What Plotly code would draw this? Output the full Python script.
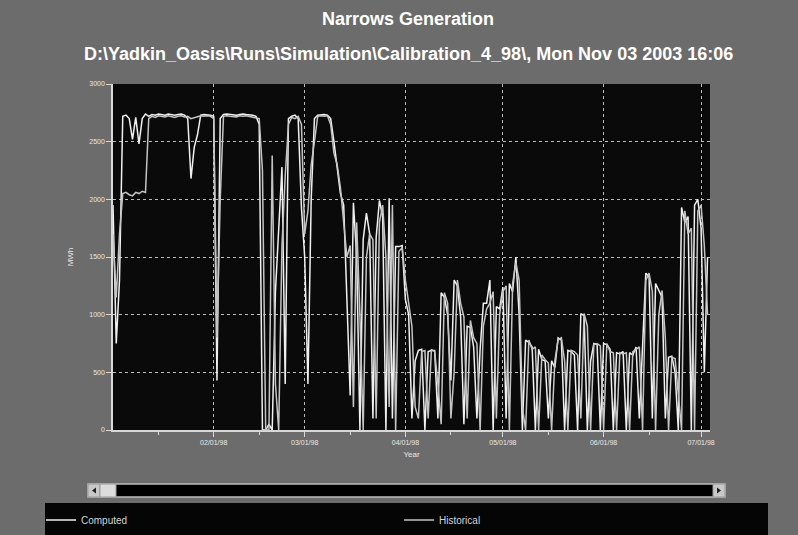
import pandas as pd
import plotly.graph_objects as go

# Daily generation, MWh, starting 1 Jan 1998
start_date = "1998-01-01"

computed = [
    1950, 750, 1300, 2720, 2730, 2700, 2520, 2710, 2480, 2700,
    2740, 2720, 2735, 2730, 2740, 2735, 2730, 2740, 2735, 2730,
    2735, 2740, 2730, 2700, 2180, 2450, 2560, 2730, 2735, 2735,
    2730, 2720, 430, 2700, 2735, 2740, 2735, 2735, 2730, 2735,
    2740, 2735, 2735, 2730, 2720, 2650, 0, 0, 50, 0,
    1200, 1800, 2280, 400, 2700, 2720, 2730, 2700, 1930, 1500,
    400, 2000, 2700, 2730, 2735, 2735, 2730, 2700, 2500, 2250,
    2050, 1950, 1200, 300,
    1970, 1500, 0, 1650, 1880, 1700, 100, 1670, 1990, 1850,
    0, 2010, 100, 1590, 1590, 1600, 1130, 1000, 100, 600,
    690, 700, 0, 680, 690, 690, 100, 1190, 1150, 1000,
    430, 1300, 1250, 980, 50, 900, 890, 720, 100, 700,
    1100, 1100, 1300, 0, 1070, 1050, 1240, 100, 1270, 1200,
    1500, 1000, 0, 780, 760, 720, 0, 700, 610, 600,
    100, 600, 540, 800, 780, 0, 690, 680, 650, 0,
    1010, 990, 0, 600, 750, 740, 0, 750, 740, 700,
    0, 670, 660, 680, 0, 670, 650, 720, 100, 700,
    1360, 1330, 100, 1270, 1210, 1150, 100, 630, 640, 500,
    0, 1930, 1800, 1850, 0, 1950, 2000, 1750, 500, 1500,
]

historical = [
    1700, 1150, 1700, 2050, 2060, 2040, 2030, 2060, 2050, 2070,
    2060, 2700, 2720, 2710, 2725, 2720, 2715, 2725, 2720, 2710,
    2720, 2725, 2715, 2720, 2700, 2710, 2720, 2725, 2720, 2725,
    2720, 2700, 800, 2000, 2720, 2725, 2720, 2720, 2715, 2725,
    2720, 2725, 2720, 2715, 2710, 2700, 2250, 0, 0, 2380,
    400, 0, 1600, 2200, 2650, 2710, 2700, 2720, 2650, 1700,
    1900, 2300, 2500, 2720, 2725, 2720, 2725, 2650, 2400, 2300,
    2100, 1800, 1500, 1600,
    200, 1800, 1000, 0, 1500, 1700, 1650, 100, 1800, 1950,
    1500, 200, 1950, 0, 1550, 1580, 1300, 1100, 900, 200,
    100, 680, 690, 100, 700, 680, 400, 50, 1190, 1100,
    100, 500, 1300, 1100, 980, 100, 950, 800, 750, 0,
    900, 1050, 1100, 1200, 100, 1000, 1200, 1250, 0, 1270,
    1450, 1300, 200, 0, 780, 700, 720, 0, 650, 610,
    580, 0, 600, 780, 800, 600, 0, 690, 680, 650,
    100, 1010, 900, 0, 740, 750, 730, 0, 750, 680,
    670, 0, 670, 660, 670, 0, 680, 700, 720, 0,
    1300, 1360, 1200, 0, 1000, 1210, 800, 0, 630, 620,
    300, 0, 1900, 1700, 1750, 0, 1900, 1950, 1600, 1000,
]

month_ticks = ["1998-02-01", "1998-03-01", "1998-04-01",
               "1998-05-01", "1998-06-01", "1998-07-01"]
month_labels = ["02/01/98", "03/01/98", "04/01/98",
                "05/01/98", "06/01/98", "07/01/98"]
mid_month_ticks = ["1998-01-15", "1998-02-15", "1998-03-15",
                   "1998-04-15", "1998-05-15", "1998-06-15"]
y_ticks = [0, 500, 1000, 1500, 2000, 2500, 3000]

dates = pd.date_range(start_date, periods=len(computed), freq="D")

W, H = 798, 535
L, R, T, B = 113, 88, 84, 105
PW, PH = W - L - R, H - T - B


def px(x):
    return (x - L) / PW


def py(y):
    return (H - B - y) / PH


BG = "#6c6c6c"
FONT = "Liberation Sans, Arial, sans-serif"
LEG_FONT = dict(family=FONT, size=10, color="#d4d4d4")

fig = go.Figure()
fig.add_trace(go.Scatter(x=dates, y=computed, name="Computed", mode="lines",
                         line=dict(color="#f0f0f0", width=1.5), legend="legend"))
fig.add_trace(go.Scatter(x=dates, y=historical, name="Historical", mode="lines",
                         line=dict(color="#c4c4c4", width=1.5), legend="legend2"))

shapes = []
# scroll bar under the plot
shapes.append(dict(type="rect", xref="paper", yref="paper",
                   x0=px(88), x1=px(725), y0=py(497), y1=py(484),
                   fillcolor="#000000", line=dict(color="#bdbdbd", width=1.5)))
for x0, x1, col in [(88, 100, "#c8c8c8"), (100, 116, "#dcdcdc"), (713, 725, "#c8c8c8")]:
    shapes.append(dict(type="rect", xref="paper", yref="paper",
                       x0=px(x0), x1=px(x1), y0=py(497), y1=py(484),
                       fillcolor=col, line=dict(color="#9a9a9a", width=1)))
shapes.append(dict(type="path", xref="paper", yref="paper",
                   path=f"M {px(92)} {py(490.5)} L {px(96)} {py(487.5)} L {px(96)} {py(493.5)} Z",
                   fillcolor="#202020", line=dict(width=0)))
shapes.append(dict(type="path", xref="paper", yref="paper",
                   path=f"M {px(721)} {py(490.5)} L {px(717)} {py(487.5)} L {px(717)} {py(493.5)} Z",
                   fillcolor="#202020", line=dict(width=0)))
# black legend band
shapes.append(dict(type="rect", xref="paper", yref="paper",
                   x0=px(45), x1=px(768), y0=py(540), y1=py(503),
                   fillcolor="#050505", line=dict(width=0), layer="below"))

annotations = [
    dict(text="<b>Narrows Generation</b>", xref="paper", yref="paper",
         x=px(408), y=py(19), xanchor="center", yanchor="middle", showarrow=False,
         font=dict(family=FONT, size=18, color="#ffffff")),
    dict(text="<b>D:\\Yadkin_Oasis\\Runs\\Simulation\\Calibration_4_98\\, Mon Nov 03 2003 16:06</b>",
         xref="paper", yref="paper", x=px(408), y=py(54), xanchor="center", yanchor="middle",
         showarrow=False, font=dict(family=FONT, size=18, color="#ffffff")),
]

axis_common = dict(
    showline=True, linecolor="#d8d8d8", linewidth=1.5,
    ticks="outside", ticklen=5, tickcolor="#d8d8d8",
    tickfont=dict(family=FONT, size=7, color="#e8e8e8"),
    showgrid=True, gridcolor="#bcbcbc", gridwidth=1, griddash="dot",
    zeroline=False, mirror=False,
)

fig.update_layout(
    width=W, height=H,
    margin=dict(l=L, r=R, t=T, b=B, pad=0, autoexpand=False),
    paper_bgcolor=BG, plot_bgcolor="#0a0a0a",
    font=dict(family=FONT, color="#e8e8e8"),
    shapes=shapes, annotations=annotations,
    showlegend=True,
    legend=dict(x=px(41), y=py(520), xanchor="left", yanchor="middle",
                bgcolor="rgba(0,0,0,0)", font=LEG_FONT, itemwidth=30),
    legend2=dict(x=px(399), y=py(520), xanchor="left", yanchor="middle",
                 bgcolor="rgba(0,0,0,0)", font=LEG_FONT, itemwidth=30),
    xaxis=dict(
        type="date", range=["1998-01-01", "1998-07-03 18:00"],
        tickmode="array", tickvals=month_ticks, ticktext=month_labels,
        title=dict(text="Year", font=dict(family=FONT, size=8, color="#e8e8e8"), standoff=6),
        minor=dict(tickmode="array", tickvals=mid_month_ticks, ticks="outside",
                   ticklen=3, tickcolor="#d8d8d8", showgrid=False),
        **axis_common,
    ),
    yaxis=dict(
        range=[0, 3000], tickmode="array", tickvals=y_ticks,
        ticktext=[str(v) for v in y_ticks],
        title=dict(text="MWh", font=dict(family=FONT, size=8, color="#e8e8e8"), standoff=14),
        **axis_common,
    ),
)

fig.write_html("out.html")
